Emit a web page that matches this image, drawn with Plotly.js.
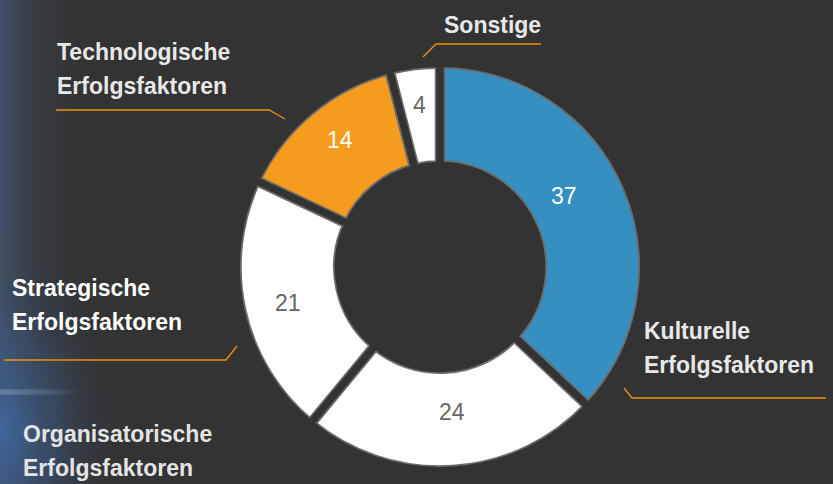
<!DOCTYPE html>
<html>
<head>
<meta charset="utf-8">
<script src="https://cdn.plot.ly/plotly-3.0.1.min.js"></script>
<style>
  html, body { margin: 0; padding: 0; background: #333333; }
  #chart { width: 833px; height: 484px; }
</style>
</head>
<body>
<div id="chart"></div>
<script>
// ---- data ----
const categories = ['Kulturelle Erfolgsfaktoren', 'Organisatorische Erfolgsfaktoren', 'Strategische Erfolgsfaktoren', 'Technologische Erfolgsfaktoren', 'Sonstige'];
const values = [37, 24, 21, 14, 4];
const sliceColors = ['#358fc1', '#ffffff', '#ffffff', '#f59c1f', '#ffffff'];
const numberColors = ['#ffffff', '#666666', '#666666', '#ffffff', '#666666'];
const labelColors = ['#e8e8e8', '#e4e4e4', '#ffffff', '#e8e8e8', '#e8e8e8'];

// ---- layout config (pixel coordinates, y from top) ----
const W = 833, H = 484;
const BG = '#333333';
const cx = 440, cy = 267;
const R = 203.5;          // pie path outer radius
const holeFrac = 0.5;
const gapW = 7;           // background stroke (gap)
const outW = 10.5;        // grey outline stroke

// category label placement: left x, first baseline y
const labelPos = [
  {x: 644, y: 339},
  {x: 23,  y: 442},
  {x: 12,  y: 296},
  {x: 57,  y: 60},
  {x: 444, y: 33}
];
// value label placement (centre of the number inside its slice)
const valuePos = [
  {x: 564, y: 196},
  {x: 452, y: 412},
  {x: 288, y: 303},
  {x: 340, y: 139.5},
  {x: 419, y: 105}
];
const lineGap = 34;
const leaderPaths = [
  'M624,388 L632,398 L826,398',
  null,
  'M237,346 L226,360 L4,360',
  'M285,119 L269,110 L56,110',
  'M423,57 L436,44 L541,44'
];

const annotations = [];
categories.forEach((c, i) => {
  const lines = c.split(' ');
  lines.forEach((ln, j) => {
    annotations.push({
      xref: 'x', yref: 'y',
      x: labelPos[i].x - 2, y: labelPos[i].y + j * lineGap - 7.8,
      xanchor: 'left', yanchor: 'middle',
      text: '<b>' + ln + '</b>', showarrow: false,
      font: {family: 'Liberation Sans, Arial, sans-serif', size: 23, color: labelColors[i], weight: 'bold'}
    });
  });
  annotations.push({
    xref: 'x', yref: 'y', x: valuePos[i].x, y: valuePos[i].y,
    xanchor: 'center', yanchor: 'middle', showarrow: false,
    text: String(values[i]),
    font: {family: 'Liberation Sans, Arial, sans-serif', size: 23, color: numberColors[i]}
  });
});

const shapes = [];
leaderPaths.forEach(p => {
  if (p) shapes.push({type: 'path', xref: 'x', yref: 'y', path: p, line: {color: '#f0900a', width: 1.3}, layer: 'above'});
});
// clean-up rings (remove stray outline outside outer edge / inside hole)
const ro = R + 4.5;
shapes.push({type: 'circle', xref: 'x', yref: 'y', x0: cx - ro, x1: cx + ro, y0: cy - ro, y1: cy + ro,
  line: {color: BG, width: 5}, fillcolor: 'rgba(0,0,0,0)', layer: 'above'});
const rIn = R * holeFrac - 2;
shapes.push({type: 'circle', xref: 'x', yref: 'y', x0: cx - rIn, x1: cx + rIn, y0: cy - rIn, y1: cy + rIn,
  line: {width: 0}, fillcolor: BG, layer: 'above'});

const domain = {
  x: [(cx - R) / W, (cx + R) / W],
  y: [(H - cy - R) / H, (H - cy + R) / H]
};

// background glow on the left edge (decorative SVG image)
const glowSvg =
  '<svg xmlns="http://www.w3.org/2000/svg" width="833" height="484" viewBox="0 0 833 484">' +
  '<defs>' +
  '<linearGradient id="a" x1="0" y1="0" x2="1" y2="0">' +
  '<stop offset="0" stop-color="rgb(78,102,140)" stop-opacity="0.6"/>' +
  '<stop offset="0.4" stop-color="rgb(66,80,104)" stop-opacity="0.25"/>' +
  '<stop offset="1" stop-color="rgb(51,51,51)" stop-opacity="0"/></linearGradient>' +
  '<radialGradient id="b" gradientUnits="userSpaceOnUse" cx="0" cy="430" r="150" gradientTransform="translate(0 430) scale(0.85 1.3) translate(0 -430)">' +
  '<stop offset="0" stop-color="rgb(62,108,170)" stop-opacity="0.8"/>' +
  '<stop offset="0.5" stop-color="rgb(58,88,130)" stop-opacity="0.4"/>' +
  '<stop offset="1" stop-color="rgb(51,51,51)" stop-opacity="0"/></radialGradient>' +
  '<linearGradient id="c" x1="0" y1="0" x2="1" y2="0">' +
  '<stop offset="0" stop-color="rgb(160,185,205)" stop-opacity="0.4"/>' +
  '<stop offset="0.6" stop-color="rgb(160,180,195)" stop-opacity="0.2"/>' +
  '<stop offset="1" stop-color="rgb(160,180,195)" stop-opacity="0"/></linearGradient>' +
  '</defs>' +
  '<rect x="0" y="0" width="100" height="484" fill="url(#a)"/>' +
  '<rect x="0" y="200" width="200" height="284" fill="url(#b)"/>' +
  '<rect x="0" y="389.5" width="80" height="5" fill="url(#c)"/>' +
  '</svg>';

const pieBase = {
  type: 'pie', values: values, labels: categories, sort: false,
  direction: 'clockwise', rotation: 0, hole: holeFrac, domain: domain,
  showlegend: false, textinfo: 'none'
};

const pieMain = Object.assign({}, pieBase, {
  marker: {colors: sliceColors, line: {color: '#6b6b6b', width: outW}},
  hoverinfo: 'label+value'
});
const pieGap = Object.assign({}, pieBase, {
  marker: {colors: values.map(() => 'rgba(0,0,0,0)'), line: {color: BG, width: gapW}},
  hoverinfo: 'skip'
});

const layout = {
  width: W, height: H,
  margin: {l: 0, r: 0, t: 0, b: 0},
  paper_bgcolor: BG, plot_bgcolor: 'rgba(0,0,0,0)',
  xaxis: {range: [0, W], visible: false, fixedrange: true},
  yaxis: {range: [H, 0], visible: false, fixedrange: true},
  images: [{
    source: 'data:image/svg+xml;charset=utf-8,' + encodeURIComponent(glowSvg),
    xref: 'paper', yref: 'paper', x: 0, y: 1, sizex: 1, sizey: 1,
    xanchor: 'left', yanchor: 'top', sizing: 'stretch', layer: 'below'
  }],
  annotations: annotations,
  shapes: shapes,
  showlegend: false
};

Plotly.newPlot('chart', [pieMain, pieGap], layout, {displayModeBar: false, staticPlot: true});
</script>
</body>
</html>
